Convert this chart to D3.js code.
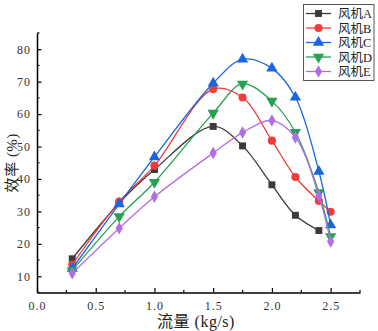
<!DOCTYPE html>
<html><head><meta charset="utf-8">
<script src="https://cdn.jsdelivr.net/npm/d3@7"></script>
<style>body{margin:0;background:#fff}svg{display:block}</style>
</head><body>
<svg id="c" width="378" height="331"></svg>
<script>
const flowX = [0.3, 0.7, 1.0, 1.5, 1.75, 2.0, 2.2, 2.4, 2.5];
const seriesNames = ["风机A", "风机B", "风机C", "风机D", "风机E"];
const fanA = [15.4, 32.6, 42.9, 56.2, 50.2, 38.2, 28.8, 24.1];
const fanB = [13.6, 33.0, 44.1, 67.7, 65.1, 51.8, 40.6, 33.2, 29.9];
const fanC = [12.4, 32.3, 46.8, 69.5, 76.9, 74.1, 65.2, 42.3, 25.8];
const fanD = [11.8, 28.4, 39.0, 60.3, 69.3, 64.0, 54.4, 35.8, 22.3];
const fanE = [10.9, 24.8, 34.5, 48.0, 54.3, 58.0, 52.8, 34.8, 20.7];
const xTicks = [0.0, 0.5, 1.0, 1.5, 2.0, 2.5];
const yTicks = [10, 20, 30, 40, 50, 60, 70, 80];
const xLabel = "流量 (kg/s)";
const yLabel = "效率 (%)";

const colors = ["#3a3a3a", "#f03c3c", "#1a66e0", "#26a052", "#b06ee6"];
const shapes = [d3.symbolSquare, d3.symbolCircle, d3.symbolTriangle, "tri-down", d3.symbolDiamond];
const sizes = [48, 52, 55, 55, 45];
const allData = [fanA, fanB, fanC, fanD, fanE];

const svg = d3.select("#c");
const L = 37, R = 360, T = 33, B = 292.5;
const x = d3.scaleLinear().domain([0, 2.75]).range([L, R]);
const y = d3.scaleLinear().domain([5, 85]).range([B, T]);

const serif = "'Liberation Serif','DejaVu Serif',serif";
const mixed = "'Liberation Serif','Noto Sans CJK SC',serif";

// axes
const gx = svg.append("g").attr("transform", `translate(0,${B})`);
gx.call(d3.axisBottom(x).tickValues(xTicks).tickSize(-4.5).tickSizeOuter(0).tickPadding(9)
  .tickFormat(d => d3.format(".1f")(d)));
gx.append("g").selectAll("line").data([0.25, 0.75, 1.25, 1.75, 2.25, 2.75]).join("line")
  .attr("x1", d => x(d)).attr("x2", d => x(d)).attr("y1", 0).attr("y2", -2.5)
  .attr("stroke", "#000").attr("stroke-width", 1.2);
const gy = svg.append("g").attr("transform", `translate(${L},0)`);
gy.call(d3.axisLeft(y).tickValues(yTicks).tickSize(-4.5).tickSizeOuter(0).tickPadding(6));
gy.append("g").selectAll("line").data([5, 15, 25, 35, 45, 55, 65, 75, 85]).join("line")
  .attr("y1", d => y(d)).attr("y2", d => y(d)).attr("x1", 0).attr("x2", 2.5)
  .attr("stroke", "#000").attr("stroke-width", 1.2);
[gx, gy].forEach(g => {
  g.select(".domain").attr("stroke", "#000").attr("stroke-width", 1.5);
  g.selectAll(".tick line").attr("stroke", "#000").attr("stroke-width", 1.2);
  g.selectAll(".tick text").attr("font-family", serif).attr("font-size", 12).attr("fill", "#333")
    .attr("letter-spacing", 1);
});

svg.append("text").attr("x", 196).attr("y", 327).attr("text-anchor", "middle")
  .attr("font-family", mixed).attr("font-size", 16).attr("letter-spacing", 0.5).attr("fill", "#222").text(xLabel);
svg.append("text").attr("transform", `translate(17,${(T + B) / 2}) rotate(-90)`)
  .attr("text-anchor", "middle").attr("font-family", mixed).attr("font-size", 15).attr("letter-spacing", 0.5).attr("fill", "#222").text(yLabel);

function sym(i) {
  if (shapes[i] === "tri-down") return d3.symbol(d3.symbolTriangle, sizes[i])();
  return d3.symbol(shapes[i], sizes[i])();
}
const line = d3.line().x(d => x(d[0])).y(d => y(d[1])).curve(d3.curveCatmullRom.alpha(0.5));

allData.forEach((vals, i) => {
  const pts = vals.map((v, j) => [flowX[j], v]);
  svg.append("path").datum(pts).attr("d", line).attr("fill", "none")
    .attr("stroke", colors[i]).attr("stroke-width", 1.3);
  svg.append("g").selectAll("path").data(pts).join("path")
    .attr("d", sym(i))
    .attr("transform", d => `translate(${x(d[0])},${y(d[1])})` + (shapes[i] === "tri-down" ? " rotate(180)" : ""))
    .attr("fill", colors[i]);
});

// legend
const lg = svg.append("g");
lg.append("rect").attr("x", 303.5).attr("y", 4.5).attr("width", 70.5).attr("height", 76)
  .attr("fill", "#fff").attr("stroke", "#555").attr("stroke-width", 1);
seriesNames.forEach((n, i) => {
  const yy = 13.5 + i * 14.5;
  lg.append("line").attr("x1", 306).attr("x2", 331).attr("y1", yy).attr("y2", yy)
    .attr("stroke", colors[i]).attr("stroke-width", 1.3);
  lg.append("path").attr("d", sym(i))
    .attr("transform", `translate(318.5,${yy})` + (shapes[i] === "tri-down" ? " rotate(180)" : ""))
    .attr("fill", colors[i]);
  lg.append("text").attr("x", 338).attr("y", yy + 4.5).attr("font-family", mixed).attr("font-size", 12.5)
    .attr("fill", "#222").text(n);
});
</script>
</body></html>
